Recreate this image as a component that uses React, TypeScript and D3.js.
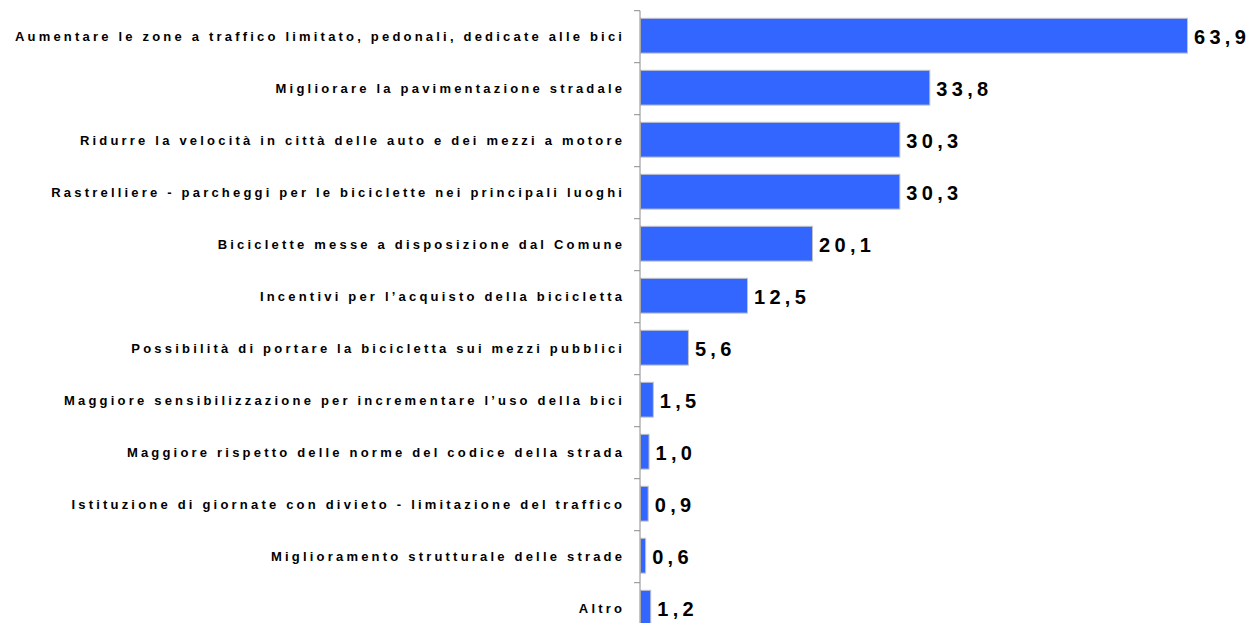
import React from "react";
import * as d3 from "d3";

const categories = [
  "Aumentare le zone a traffico limitato, pedonali, dedicate alle bici",
  "Migliorare la pavimentazione stradale",
  "Ridurre la velocità in città delle auto e dei mezzi a motore",
  "Rastrelliere - parcheggi per le biciclette nei principali luoghi",
  "Biciclette messe a disposizione dal Comune",
  "Incentivi per l’acquisto della bicicletta",
  "Possibilità di portare la bicicletta sui mezzi pubblici",
  "Maggiore sensibilizzazione per incrementare l’uso della bici",
  "Maggiore rispetto delle norme del codice della strada",
  "Istituzione di giornate con divieto - limitazione del traffico",
  "Miglioramento strutturale delle strade",
  "Altro",
];
const values = [63.9, 33.8, 30.3, 30.3, 20.1, 12.5, 5.6, 1.5, 1.0, 0.9, 0.6, 1.2];

const W = 1252;
const H = 623;
const axisX = 640;
const top = 10.7;
const step = 52;

export default function App() {
  const x = d3.scaleLinear().domain([0, 70]).range([axisX, axisX + 8.56 * 70]);
  const y = d3
    .scaleBand<string>()
    .domain(categories)
    .range([top, top + step * categories.length])
    .paddingInner(0.33)
    .paddingOuter(0.165);
  const bw = y.bandwidth();
  const pad = (y.step() - bw) / 2;
  const fmt = (v: number) => v.toFixed(1).replace(".", ",");
  const catLS = 3.2;
  const valLS = 4.3;
  return (
    <div style={{ position: "absolute", left: 0, top: 0, width: W, height: H, background: "#fff" }}>
      <svg width={W} height={H} style={{ display: "block", fontFamily: "'Liberation Sans', Arial, sans-serif" }}>
        <rect width={W} height={H} fill="#fff" />
        {categories.map((c, i) => {
          const y0 = y(c)!;
          const v = values[i];
          return (
            <g key={c}>
              <line x1={axisX - 6} x2={axisX} y1={y0 - pad} y2={y0 - pad} stroke="#8c8c8c" strokeWidth={1} />
              <rect
                x={x(0) + 0.5}
                y={y0 - 1}
                width={x(v) - x(0)}
                height={bw}
                fill="#3366FF"
                stroke="#c4c4c4"
                strokeWidth={1}
              />
              <text
                x={622 + catLS}
                y={y0 + bw / 2}
                dy="0.36em"
                textAnchor="end"
                fontSize={13}
                fontWeight="bold"
                letterSpacing={catLS}
                fill="#000"
              >
                {c}
              </text>
              <text
                x={x(v) + 7}
                y={y0 + bw / 2}
                dy="0.36em"
                fontSize={20}
                fontWeight="bold"
                letterSpacing={valLS}
                fill="#000"
              >
                {fmt(v)}
              </text>
            </g>
          );
        })}
        <line x1={axisX} x2={axisX} y1={top} y2={H + 20} stroke="#8c8c8c" strokeWidth={1} />
      </svg>
    </div>
  );
}
